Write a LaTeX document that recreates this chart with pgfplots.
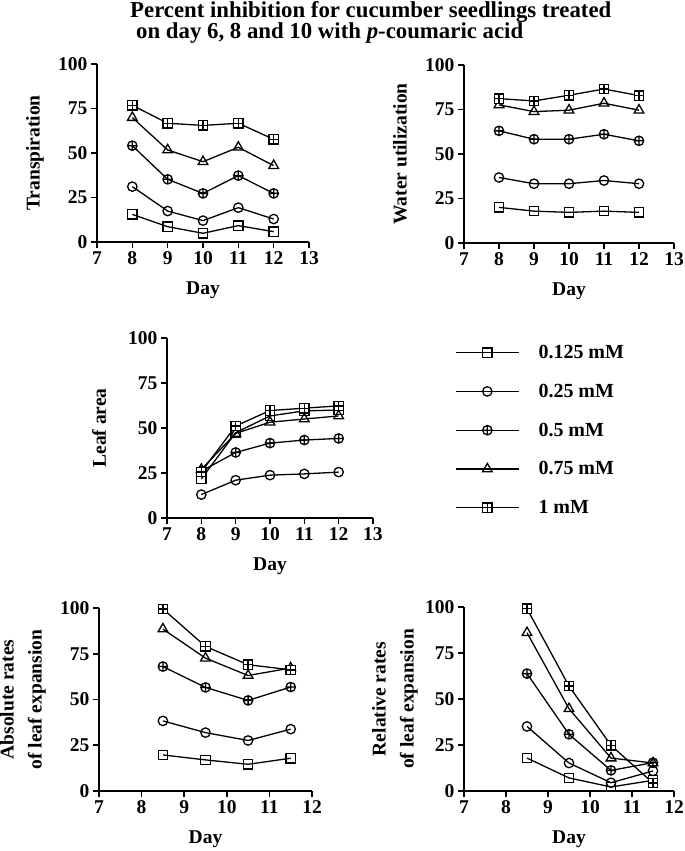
\documentclass[border=0pt]{standalone}
\usepackage{fontspec}
\setmainfont{Liberation Serif}
\usepackage{pgfplots}
\pgfplotsset{compat=1.18}
\pgfdeclareplotmark{boxplus}{%
  \pgfpathrectangle{\pgfqpoint{-\pgfplotmarksize}{-\pgfplotmarksize}}{\pgfqpoint{2\pgfplotmarksize}{2\pgfplotmarksize}}%
  \pgfusepathqfillstroke
  \pgfpathmoveto{\pgfqpoint{-\pgfplotmarksize}{0pt}}\pgfpathlineto{\pgfqpoint{\pgfplotmarksize}{0pt}}%
  \pgfpathmoveto{\pgfqpoint{0pt}{-\pgfplotmarksize}}\pgfpathlineto{\pgfqpoint{0pt}{\pgfplotmarksize}}%
  \pgfusepathqstroke}
\pgfplotsset{
  panel/.style={
    scale only axis, clip=false,
    axis x line*=bottom, axis y line*=left,
    axis line style={line width=1.6pt,-},
    tick align=outside, major tick length=6pt,
    tick style={line width=1.6pt, black},
    ymin=0, ymax=100, ytick={0,25,50,75,100},
    tick label style={font=\bfseries\fontsize{19.5}{20}\selectfont},
    label style={font=\bfseries\fontsize{19.5}{25}\selectfont},
    /pgf/number format/assume math mode=true,
    xlabel=Day,
    xlabel style={at={([yshift=-48pt]axis description cs:0.5,0)}, anchor=center},
  },
  yoff/.style={ylabel style={at={([xshift=-#1]axis description cs:0,0.5)}, anchor=center, align=center}},
  sbase/.style={black, line width=1.3pt, mark size=4.7pt, mark options={fill=white, solid, line width=1.3pt}},
  s1/.style={sbase, mark=square},
  s2/.style={sbase, mark=o},
  s3/.style={sbase, mark=oplus},
  s4/.style={sbase, mark=triangle, mark size=5.6pt},
  s5/.style={sbase, mark=boxplus},
}
\begin{document}
\begin{tikzpicture}
\path[use as bounding box] (0,0) rectangle (685pt,851pt);
\node[anchor=north west, align=left, font=\bfseries\fontsize{22.8}{21}\selectfont, inner sep=0pt]
  at (130pt,850pt) {Percent inhibition for cucumber seedlings treated\\\hspace*{6pt}on day 6, 8 and 10 with \textit{p}-coumaric acid};

% Transpiration
\begin{axis}[panel, at={(97pt,609pt)}, anchor=south west, width=212pt, height=178pt,
  xmin=7, xmax=13, xtick={7,8,...,13}, ylabel=Transpiration, yoff=62pt]
\addplot[s1] coordinates {(8,15.5) (9,8.6) (10,4.9) (11,9.2) (12,5.8)};
\addplot[s2] coordinates {(8,31.1) (9,17.4) (10,12) (11,19.3) (12,12.9)};
\addplot[s3] coordinates {(8,54.1) (9,35.2) (10,27.3) (11,37.3) (12,27.3)};
\addplot[s4] coordinates {(8,69.9) (9,51.7) (10,45.1) (11,53.2) (12,42.9)};
\addplot[s5] coordinates {(8,76.8) (9,66.7) (10,65.5) (11,66.7) (12,57.7)};
\end{axis}

% Water utilization
\begin{axis}[panel, at={(464pt,608pt)}, anchor=south west, width=210pt, height=178pt,
  xmin=7, xmax=13, xtick={7,8,...,13}, ylabel=Water utilization, yoff=64pt]
\addplot[s1] coordinates {(8,20) (9,17.9) (10,17.2) (11,17.9) (12,17.2)};
\addplot[s2] coordinates {(8,36.8) (9,33.3) (10,33.3) (11,35.1) (12,33.3)};
\addplot[s3] coordinates {(8,63) (9,58.3) (10,58.3) (11,61.1) (12,57.4)};
\addplot[s4] coordinates {(8,77.6) (9,73.8) (10,74.6) (11,78.5) (12,74.6)};
\addplot[s5] coordinates {(8,81.1) (9,79.8) (10,83) (11,86.5) (12,82.8)};
\end{axis}

% Leaf area
\begin{axis}[panel, at={(167pt,333pt)}, anchor=south west, width=206pt, height=180pt,
  xmin=7, xmax=13, xtick={7,8,...,13}, ylabel=Leaf area, yoff=68pt,
  legend style={draw=none, fill=none, inner sep=0pt, at={([xshift=82pt,yshift=-5pt]axis description cs:1,1)}, anchor=north west,
    font=\bfseries\fontsize{20}{20}\selectfont, row sep=20pt, nodes={inner sep=2pt}},
  legend cell align=left,
  /tikz/every odd column/.append style={column sep=17pt},
  legend image code/.code={\draw[mark repeat=2,mark phase=2] plot coordinates {(0pt,0pt) (31.5pt,0pt) (63pt,0pt)};}]
\addplot[s1] coordinates {(8,21.7) (9,47.4) (10,56.7) (11,59.5) (12,60)};
\addplot[s2] coordinates {(8,13) (9,21) (10,23.8) (11,24.5) (12,25.5)};
\addplot[s3] coordinates {(8,26) (9,36.4) (10,41.6) (11,43.3) (12,44.2)};
\addplot[s4] coordinates {(8,27) (9,47) (10,53.2) (11,55) (12,56.7)};
\addplot[s5] coordinates {(8,25.6) (9,51.1) (10,59.7) (11,61) (12,62.3)};
\legend{0.125 mM, 0.25 mM, 0.5 mM, 0.75 mM, 1 mM}
\end{axis}

% Absolute rates
\begin{axis}[panel, at={(99pt,60pt)}, anchor=south west, width=213pt, height=183pt,
  xmin=7, xmax=12, xtick={7,8,...,12}, ylabel={Absolute rates\\[3pt]of leaf expansion}, yoff=76pt]
\addplot[s1] coordinates {(8.5,19.7) (9.5,17) (10.5,14.6) (11.5,17.9)};
\addplot[s2] coordinates {(8.5,38.3) (9.5,31.9) (10.5,27.6) (11.5,33.8)};
\addplot[s3] coordinates {(8.5,68) (9.5,56.6) (10.5,49.5) (11.5,56.8)};
\addplot[s4] coordinates {(8.5,88.5) (9.5,72.6) (10.5,63.1) (11.5,67.2)};
\addplot[s5] coordinates {(8.5,99.5) (9.5,79) (10.5,69) (11.5,66.2)};
\end{axis}

% Relative rates
\begin{axis}[panel, at={(464pt,60pt)}, anchor=south west, width=210pt, height=184pt,
  xmin=7, xmax=12, xtick={7,8,...,12}, ylabel={Relative rates\\[3pt]of leaf expansion}, yoff=69pt]
\addplot[s1] coordinates {(8.5,17.9) (9.5,7.1) (10.5,2.2) (11.5,5.8)};
\addplot[s2] coordinates {(8.5,35.1) (9.5,15.2) (10.5,4.5) (11.5,10.9)};
\addplot[s3] coordinates {(8.5,63.8) (9.5,30.8) (10.5,11.2) (11.5,15.4)};
\addplot[s4] coordinates {(8.5,86) (9.5,44.7) (10.5,17.9) (11.5,15.2)};
\addplot[s5] coordinates {(8.5,99.1) (9.5,57) (10.5,24.8) (11.5,4.3)};
\end{axis}
\end{tikzpicture}
\end{document}
